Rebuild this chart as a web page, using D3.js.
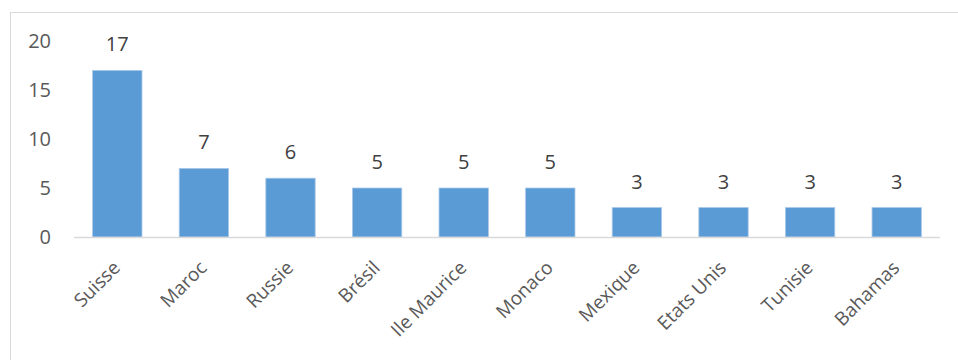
<!DOCTYPE html>
<html>
<head>
<meta charset="utf-8">
<script src="https://cdn.jsdelivr.net/npm/d3@7"></script>
<style>
  body { margin: 0; background: #fff; }
  text { font-family: "Open Sans", sans-serif; }
</style>
</head>
<body>
<div id="chart"></div>
<script>

const countries = ["Suisse", "Maroc", "Russie", "Brésil", "Ile Maurice", "Monaco", "Mexique", "Etats Unis", "Tunisie", "Bahamas"]

const counts = [17, 7, 6, 5, 5, 5, 3, 3, 3, 3]

const yTicks = [0, 5, 10, 15, 20]

var width = 958, height = 360

var svg = d3.select("#chart").append("svg")
    .attr("width", width)
    .attr("height", height)

// chart frame (runs off the right and bottom of the picture)
svg.append("rect")
    .attr("x", 10.5)
    .attr("y", 12.5)
    .attr("width", 960)
    .attr("height", 360)
    .attr("fill", "none")
    .attr("stroke", "#d9d9d9")

var x = d3.scaleBand()
    .domain(countries)
    .range([74, 940])
    .paddingInner(0.43)
    .paddingOuter(0.215)

var y = d3.scaleLinear()
    .domain([0, 20])
    .range([237, 41])

// y tick labels
svg.append("g").selectAll("text")
    .data(yTicks)
    .enter().append("text")
    .attr("x", 51)
    .attr("y", d => y(d))
    .attr("dy", "0.36em")
    .attr("text-anchor", "end")
    .attr("fill", "#595959")
    .style("font-size", "20px")
    .text(d => d)

// bars
svg.append("g").selectAll("rect")
    .data(counts)
    .enter().append("rect")
    .attr("x", (d, i) => x(countries[i]))
    .attr("y", d => y(d))
    .attr("width", x.bandwidth())
    .attr("height", d => y(0) - y(d))
    .attr("fill", "#5b9bd5")
    .attr("stroke", "#a9c8e8")
    .attr("stroke-width", 0.8)

// baseline
svg.append("line")
    .attr("x1", 74)
    .attr("x2", 940)
    .attr("y1", y(0) + 0.5)
    .attr("y2", y(0) + 0.5)
    .attr("stroke", "#d9d9d9")
    .attr("stroke-width", 1.5)

// value labels
svg.append("g").selectAll("text")
    .data(counts)
    .enter().append("text")
    .attr("x", (d, i) => x(countries[i]) + x.bandwidth() / 2)
    .attr("y", d => y(d) - 19)
    .attr("text-anchor", "middle")
    .attr("fill", "#404040")
    .style("font-size", "20px")
    .text(d => d)

// category labels
svg.append("g").selectAll("text")
    .data(countries)
    .enter().append("text")
    .attr("transform", d => `translate(${x(d) + x.bandwidth() / 2 + 4},${269}) rotate(-45)`)
    .attr("text-anchor", "end")
    .attr("fill", "#595959")
    .style("font-size", "19px")
    .text(d => d)

</script>
</body>
</html>
